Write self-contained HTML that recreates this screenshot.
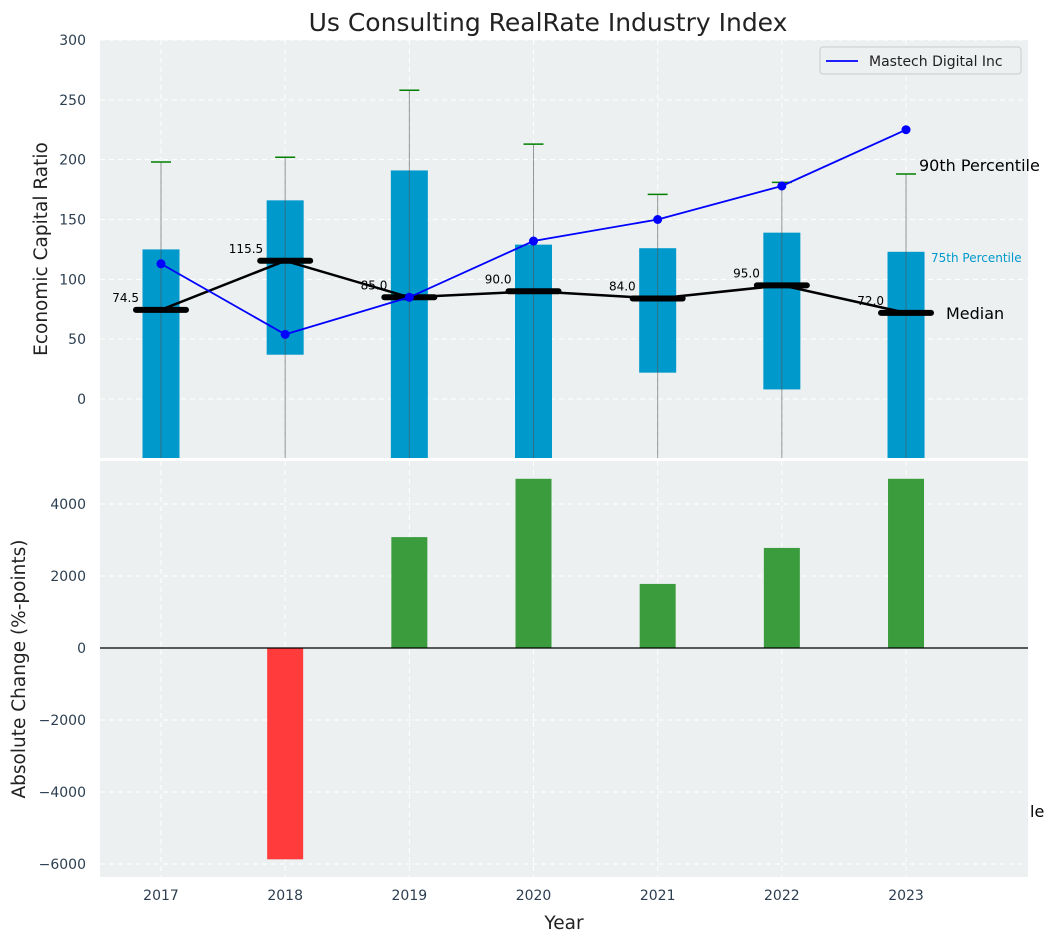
<!DOCTYPE html>
<html><head><meta charset="utf-8"><style>
body{margin:0;background:#fff;font-family:"Liberation Sans","DejaVu Sans",sans-serif}
svg text{font-family:"DejaVu Sans","Liberation Sans",sans-serif}
</style></head><body>
<svg id="c" width="1054" height="942" xmlns="http://www.w3.org/2000/svg"></svg>
<script>
const years=[2017,2018,2019,2020,2021,2022,2023];
const boxTop=[125,166,191,129,126,139,123];
const boxBottom=[-80,37,-80,-80,22,8,-80];
const whiskerTop=[198,202,258,213,171,181,188];
const medians=[74.5,115.5,85.0,90.0,84.0,95.0,72.0];
const mastech=[113,54,85,132,150,178,225];
const changes=[0,-5870,3080,4700,1780,2780,4700];
const topTicks=[0,50,100,150,200,250,300];
const botTicks=[-6000,-4000,-2000,0,2000,4000];

const NS="http://www.w3.org/2000/svg";
const svg=document.getElementById('c');
function el(t,a,p){const e=document.createElementNS(NS,t);for(const k in a)e.setAttribute(k,a[k]);(p||svg).appendChild(e);return e;}
const X0=100,X1=1028,T0=40,T1=458,B0=461,B1=877;
const x=i=>161+i*124.17;
const yT=v=>399-v*1.1967;
const yB=v=>648-v*0.036;

let t=el('text',{x:548,y:31,'text-anchor':'middle','font-size':25,fill:'#222'});t.textContent='Us Consulting RealRate Industry Index';


const gt=el('g',{});
el('rect',{x:X0,y:T0,width:X1-X0,height:T1-T0,fill:'#ecf0f1'},gt);
const cp=el('clipPath',{id:'ct'});
el('rect',{x:X0,y:T0,width:X1-X0,height:T1-T0},cp);
topTicks.forEach(v=>{el('line',{x1:X0,x2:X1,y1:yT(v),y2:yT(v),stroke:'#fff','stroke-dasharray':'5,4','stroke-width':1},gt);
 const tt=el('text',{x:86,y:yT(v)+5,'text-anchor':'end','font-size':14,fill:'#2c3e50'},gt);tt.textContent=v;
 });
years.forEach((yr,i)=>el('line',{x1:x(i),x2:x(i),y1:T0,y2:T1,stroke:'#fff','stroke-dasharray':'5,4'},gt));
const gc=el('g',{'clip-path':'url(#ct)'},gt);
years.forEach((yr,i)=>{
 const b=el('rect',{x:x(i)-18.5,y:yT(boxTop[i]),width:37,height:yT(boxBottom[i])-yT(boxTop[i]),fill:'#0099cc'},gc);
 
 const w=el('line',{x1:x(i),x2:x(i),y1:yT(whiskerTop[i]),y2:T1+5,stroke:'#555','stroke-opacity':0.6,'stroke-width':1},gc);
 
 const c=el('line',{x1:x(i)-10,x2:x(i)+10,y1:yT(whiskerTop[i]),y2:yT(whiskerTop[i]),stroke:'green','stroke-width':1.5},gc);
 
});
let mp=el('polyline',{points:medians.map((m,i)=>x(i)+','+yT(m)).join(' '),fill:'none',stroke:'#000','stroke-width':2.5},gc);

medians.forEach((m,i)=>{
 const l=el('line',{x1:x(i)-25,x2:x(i)+25,y1:yT(m),y2:yT(m),stroke:'#000','stroke-width':6,'stroke-linecap':'round'},gc);
 
 const tx=el('text',{x:x(i)-22,y:yT(m)-8,'text-anchor':'end','font-size':12,fill:'#000'},gt);tx.textContent=m.toFixed(1);
 
});
let bp=el('polyline',{points:mastech.map((m,i)=>x(i)+','+yT(m)).join(' '),fill:'none',stroke:'#0000ff','stroke-width':1.8},gc);

mastech.forEach((m,i)=>{const c=el('circle',{cx:x(i),cy:yT(m),r:4.5,fill:'#0000ff'},gc);
 });
[['90th Percentile',919,171,16,'#000'],['75th Percentile',931,262,12,'#0099cc'],['Median',946,319,16,'#000']].forEach(a=>{
 const tx=el('text',{x:a[1],y:a[2],'font-size':a[3],fill:a[4]});tx.textContent=a[0];
 });
t=el('text',{x:1030,y:817,'font-size':16,fill:'#000'});t.textContent='le';
t=el('text',{transform:'translate(47,249) rotate(-90)','text-anchor':'middle','font-size':18.5,fill:'#222'});t.textContent='Economic Capital Ratio';

const lg=el('g',{});
el('rect',{x:820,y:47,width:201,height:27,rx:3,fill:'#ecf0f1',stroke:'#ccc'},lg);
el('line',{x1:826,x2:858,y1:61,y2:61,stroke:'#0000ff','stroke-width':1.8},lg);
t=el('text',{x:869,y:66,'font-size':14,fill:'#222'},lg);t.textContent='Mastech Digital Inc';

const gb=el('g',{});
el('rect',{x:X0,y:B0,width:X1-X0,height:B1-B0,fill:'#ecf0f1'},gb);
botTicks.forEach(v=>{if(v!==0)el('line',{x1:X0,x2:X1,y1:yB(v),y2:yB(v),stroke:'#fff','stroke-dasharray':'5,4'},gb);
 const tt=el('text',{x:86,y:yB(v)+5,'text-anchor':'end','font-size':14,fill:'#2c3e50'},gb);tt.textContent=v<0?'\u2212'+(-v):v;
 });
years.forEach((yr,i)=>{el('line',{x1:x(i),x2:x(i),y1:B0,y2:B1,stroke:'#fff','stroke-dasharray':'5,4'},gb);
 const tt=el('text',{x:x(i),y:900,'text-anchor':'middle','font-size':14,fill:'#2c3e50'},gb);tt.textContent=yr;
 });
changes.forEach((v,i)=>{if(!v)return;
 const r=el('rect',{x:x(i)-18,y:Math.min(yB(v),yB(0)),width:36,height:Math.abs(yB(v)-yB(0)),fill:v>0?'#3a9c3d':'#ff3b3b'},gb);
 });
el('line',{x1:X0,x2:X1,y1:yB(0),y2:yB(0),stroke:'#000','stroke-width':1.2},gb);
t=el('text',{transform:'translate(25,669) rotate(-90)','text-anchor':'middle','font-size':18.5,fill:'#222'});t.textContent='Absolute Change (%-points)';

t=el('text',{x:564,y:929,'text-anchor':'middle','font-size':18.5,fill:'#222'});t.textContent='Year';

</script>
</body></html>
